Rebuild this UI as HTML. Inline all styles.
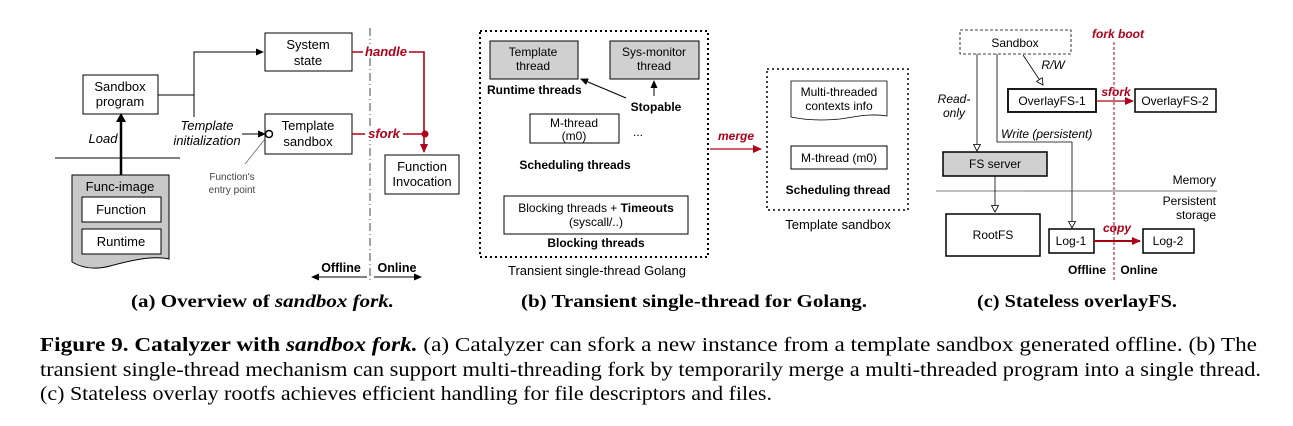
<!DOCTYPE html>
<html><head><meta charset="utf-8"><style>
html,body{margin:0;padding:0;background:#fff;}
svg{display:block;}
.s{font-family:"Liberation Sans",sans-serif;}
.r{font-family:"Liberation Serif",serif;}
</style></head><body>
<svg width="1293" height="426" viewBox="0 0 1293 426" xmlns="http://www.w3.org/2000/svg">
<defs>
<marker id="ab" markerWidth="8" markerHeight="8" refX="7" refY="4" orient="auto" markerUnits="userSpaceOnUse"><path d="M0,0.5 L8,4 L0,7.5z" fill="#000"/></marker>
<marker id="ar" markerWidth="9" markerHeight="9" refX="8" refY="4.5" orient="auto" markerUnits="userSpaceOnUse"><path d="M0,0.5 L9,4.5 L0,8.5z" fill="#b0001a"/></marker>
<marker id="ao" markerWidth="8" markerHeight="8" refX="7" refY="4" orient="auto" markerUnits="userSpaceOnUse"><path d="M0.5,0.5 L7,4 L0.5,7.5z" fill="#fff" stroke="#000" stroke-width="0.8"/></marker>
</defs>
<g class="s" font-size="13" fill="#000" stroke-width="1">
<!-- Panel a -->
<rect x="265" y="33" width="87" height="38" fill="#fff" stroke="#000"/>
<text x="308" y="49" text-anchor="middle">System</text><text x="308" y="65" text-anchor="middle">state</text>
<rect x="83" y="75" width="75" height="39" fill="#fff" stroke="#000"/>
<text x="120" y="91" text-anchor="middle">Sandbox</text><text x="120" y="106" text-anchor="middle">program</text>
<path d="M158,95 H194 M194,117 V52 H263" fill="none" stroke="#000" marker-end="url(#ab)"/>
<rect x="265" y="114" width="87" height="40" fill="#fff" stroke="#000"/>
<text x="308" y="130" text-anchor="middle">Template</text><text x="308" y="146" text-anchor="middle">sandbox</text>
<text x="207" y="130" text-anchor="middle" font-style="italic">Template</text>
<text x="207" y="145" text-anchor="middle" font-style="italic">initialization</text>
<path d="M242,134 H265" stroke="#000" marker-end="url(#ab)"/>
<circle cx="269" cy="134" r="3.5" fill="#fff" stroke="#000" stroke-width="1.5"/>
<line x1="245" y1="164" x2="265" y2="139" stroke="#666" stroke-width="0.8"/>
<text x="232" y="180" text-anchor="middle" font-size="10" fill="#444">Function's</text>
<text x="232" y="193" text-anchor="middle" font-size="10" fill="#444">entry point</text>
<line x1="370" y1="28" x2="370" y2="282" stroke="#444" stroke-dasharray="8,3,1,3"/>
<path d="M352,52 H424 V152" fill="none" stroke="#b0001a" stroke-width="1.6" marker-end="url(#ar)"/>
<rect x="363" y="44" width="46" height="14" fill="#fff"/>
<text x="386" y="56" text-anchor="middle" font-style="italic" font-weight="bold" fill="#b0001a">handle</text>
<path d="M352,134 H425" stroke="#b0001a" stroke-width="1.6"/>
<rect x="365" y="126" width="38" height="14" fill="#fff"/>
<text x="384" y="138" text-anchor="middle" font-style="italic" font-weight="bold" fill="#b0001a">sfork</text>
<circle cx="425" cy="134" r="3.5" fill="#b0001a"/>
<rect x="385" y="155" width="74" height="39" fill="#fff" stroke="#000"/>
<text x="422" y="171" text-anchor="middle">Function</text><text x="422" y="186" text-anchor="middle">Invocation</text>
<text x="103" y="143" text-anchor="middle" font-style="italic">Load</text>
<line x1="55" y1="158" x2="180" y2="158" stroke="#000"/>
<path d="M72,175 H169 V259 C150,255 125,262 110,266 C95,270 82,268 72,262 Z" fill="#c8c8c8" stroke="#000"/>
<line x1="121" y1="175" x2="121" y2="121" stroke="#000" stroke-width="2.5"/>
<path d="M116,122 L121,113 L126,122z" fill="#000"/>
<text x="120" y="191" text-anchor="middle">Func-image</text>
<rect x="82" y="197" width="79" height="25" fill="#fff" stroke="#000"/>
<text x="121" y="214" text-anchor="middle">Function</text>
<rect x="82" y="229" width="79" height="25" fill="#fff" stroke="#000"/>
<text x="121" y="246" text-anchor="middle">Runtime</text>
<text x="341" y="272" text-anchor="middle" font-weight="bold" font-size="12.5">Offline</text>
<text x="397" y="272" text-anchor="middle" font-weight="bold" font-size="12.5">Online</text>
<path d="M367,277 H312" stroke="#000" marker-end="url(#ab)"/>
<path d="M374,277 H421" stroke="#000" marker-end="url(#ab)"/>
<!-- Panel b -->
<rect x="480" y="31" width="228" height="226" fill="none" stroke="#000" stroke-width="2" stroke-dasharray="2,3"/>
<rect x="490" y="41" width="88" height="38" fill="#d0d0d0" stroke="#000"/>
<text x="533" y="56" text-anchor="middle" font-size="12">Template</text><text x="533" y="70" text-anchor="middle" font-size="12">thread</text>
<rect x="610" y="41" width="89" height="38" fill="#d0d0d0" stroke="#000"/>
<text x="654" y="56" text-anchor="middle" font-size="12">Sys-monitor</text><text x="654" y="70" text-anchor="middle" font-size="12">thread</text>
<text x="487" y="94" font-weight="bold" font-size="12">Runtime threads</text>
<text x="656" y="111" text-anchor="middle" font-weight="bold" font-size="12">Stopable</text>
<path d="M626,98 L581,79" stroke="#000" marker-end="url(#ab)"/>
<path d="M654,96 V81" stroke="#000" marker-end="url(#ab)"/>
<rect x="530" y="114" width="89" height="29" fill="#fff" stroke="#000"/>
<text x="574" y="127" text-anchor="middle" font-size="12">M-thread</text><text x="574" y="140" text-anchor="middle" font-size="12">(m0)</text>
<text x="638" y="136" text-anchor="middle" font-size="12">...</text>
<text x="575" y="169" text-anchor="middle" font-weight="bold" font-size="12">Scheduling threads</text>
<rect x="504" y="196" width="184" height="38" fill="#fff" stroke="#000"/>
<text x="596" y="212" text-anchor="middle" font-size="12">Blocking threads + <tspan font-weight="bold">Timeouts</tspan></text>
<text x="596" y="226" text-anchor="middle" font-size="12">(syscall/..)</text>
<text x="596" y="247" text-anchor="middle" font-weight="bold" font-size="12">Blocking threads</text>
<text x="597" y="275" text-anchor="middle" font-size="13">Transient single-thread Golang</text>
<path d="M710,149 H761" stroke="#b0001a" stroke-width="1.2" marker-end="url(#ar)"/>
<text x="736" y="140" text-anchor="middle" font-style="italic" font-weight="bold" font-size="12" fill="#b0001a">merge</text>
<rect x="767" y="69" width="141" height="141" fill="none" stroke="#000" stroke-width="1.5" stroke-dasharray="2,3"/>
<path d="M791,81 H887 V116 C870,113 855,117 840,119 C820,121 805,120 791,117 Z" fill="#fff" stroke="#000" stroke-width="0.8"/>
<text x="839" y="96" text-anchor="middle" font-size="12">Multi-threaded</text><text x="839" y="110" text-anchor="middle" font-size="12">contexts info</text>
<rect x="791" y="146" width="96" height="23" fill="#fff" stroke="#000"/>
<text x="839" y="162" text-anchor="middle" font-size="12">M-thread (m0)</text>
<text x="838" y="194" text-anchor="middle" font-weight="bold" font-size="12">Scheduling thread</text>
<text x="838" y="229" text-anchor="middle" font-size="13">Template sandbox</text>
<!-- Panel c -->
<rect x="960" y="30" width="111" height="24" fill="#fff" stroke="#000" stroke-dasharray="3,2" stroke-width="0.8"/>
<text x="1015" y="47" text-anchor="middle" font-size="12">Sandbox</text>
<text x="1118" y="38" text-anchor="middle" font-style="italic" font-weight="bold" font-size="12" fill="#b0001a">fork boot</text>
<line x1="1114" y1="42" x2="1114" y2="282" stroke="#b0001a" stroke-dasharray="3,2"/>
<text x="1053" y="69" text-anchor="middle" font-style="italic" font-size="12">R/W</text>
<path d="M1023,55 L1043,85" stroke="#000" stroke-width="0.8" marker-end="url(#ao)"/>
<rect x="1008" y="89" width="88" height="23" fill="#fff" stroke="#000" stroke-width="1.8"/>
<text x="1052" y="105" text-anchor="middle" font-size="12">OverlayFS-1</text>
<path d="M1096,101 H1133" stroke="#b0001a" stroke-width="1.2" marker-end="url(#ar)"/>
<text x="1116" y="96" text-anchor="middle" font-style="italic" font-weight="bold" font-size="12" fill="#b0001a">sfork</text>
<rect x="1135" y="89" width="81" height="23" fill="#fff" stroke="#000" stroke-width="1.5"/>
<text x="1175" y="105" text-anchor="middle" font-size="12">OverlayFS-2</text>
<text x="954" y="103" text-anchor="middle" font-style="italic" font-size="12">Read-</text>
<text x="954" y="117" text-anchor="middle" font-style="italic" font-size="12">only</text>
<path d="M977,54 V151" stroke="#000" stroke-width="0.8" marker-end="url(#ao)"/>
<path d="M997,54 V142 H1072 V228" fill="none" stroke="#000" stroke-width="0.8" marker-end="url(#ao)"/>
<text x="1001" y="138" font-style="italic" font-size="12">Write (persistent)</text>
<rect x="943" y="152" width="104" height="24" fill="#d0d0d0" stroke="#000" stroke-width="1.5"/>
<text x="995" y="168" text-anchor="middle" font-size="12">FS server</text>
<text x="1216" y="184" text-anchor="end" font-size="12">Memory</text>
<line x1="936" y1="191" x2="1024" y2="191" stroke="#999" stroke-width="1.2"/>
<line x1="1024" y1="191" x2="1217" y2="191" stroke="#444" stroke-width="0.8"/>
<text x="1216" y="205" text-anchor="end" font-size="12">Persistent</text>
<text x="1216" y="219" text-anchor="end" font-size="12">storage</text>
<path d="M995,176 V212" stroke="#000" stroke-width="0.8" marker-end="url(#ao)"/>
<rect x="946" y="214" width="94" height="42" fill="#fff" stroke="#000" stroke-width="1.5"/>
<text x="993" y="239" text-anchor="middle" font-size="12">RootFS</text>
<rect x="1049" y="229" width="45" height="24" fill="#fff" stroke="#000" stroke-width="1.5"/>
<text x="1071" y="245" text-anchor="middle" font-size="12">Log-1</text>
<path d="M1094,241 H1140" stroke="#a00010" stroke-width="2" marker-end="url(#ar)"/>
<text x="1117" y="232" text-anchor="middle" font-style="italic" font-weight="bold" font-size="12" fill="#b0001a">copy</text>
<rect x="1143" y="229" width="51" height="24" fill="#fff" stroke="#000" stroke-width="1.5"/>
<text x="1168" y="245" text-anchor="middle" font-size="12">Log-2</text>
<text x="1087" y="274" text-anchor="middle" font-weight="bold" font-size="12">Offline</text>
<text x="1139" y="274" text-anchor="middle" font-weight="bold" font-size="12">Online</text>
</g>
<g class="r" font-size="18" fill="#000">
<text x="131" y="307" font-weight="bold" textLength="263" lengthAdjust="spacingAndGlyphs">(a) Overview of <tspan font-style="italic">sandbox fork.</tspan></text>
<text x="521" y="307" font-weight="bold" textLength="346" lengthAdjust="spacingAndGlyphs">(b) Transient single-thread for Golang.</text>
<text x="977" y="307" font-weight="bold" textLength="200" lengthAdjust="spacingAndGlyphs">(c) Stateless overlayFS.</text>
<text x="40" y="351" font-size="19.5" textLength="1217" lengthAdjust="spacingAndGlyphs"><tspan font-weight="bold">Figure 9. Catalyzer with <tspan font-style="italic">sandbox fork.</tspan></tspan> (a) Catalyzer can sfork a new instance from a template sandbox generated offline. (b) The</text>
<text x="40" y="376" font-size="19.5" textLength="1221" lengthAdjust="spacingAndGlyphs">transient single-thread mechanism can support multi-threading fork by temporarily merge a multi-threaded program into a single thread.</text>
<text x="40" y="400" font-size="19.5" textLength="732" lengthAdjust="spacingAndGlyphs">(c) Stateless overlay rootfs achieves efficient handling for file descriptors and files.</text>
</g>
</svg>
</body></html>
